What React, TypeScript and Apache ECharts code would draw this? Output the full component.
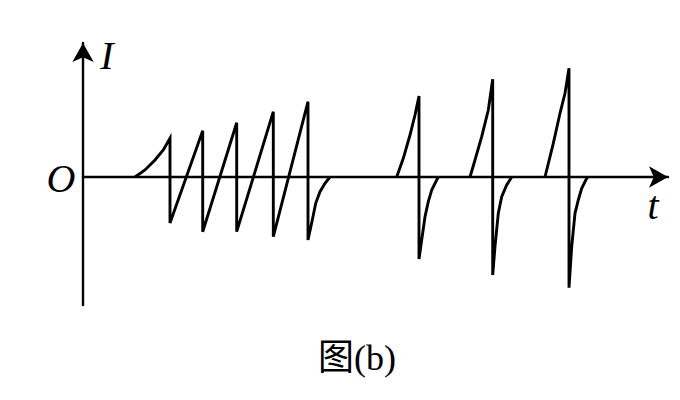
import React, { useEffect, useRef } from "react";
import * as echarts from "echarts";

// [t, I] points (arbitrary units)
const burstRise: number[][] = [[5.2, 0], [6.2, 0.7], [7.2, 1.7], [8.03, 2.7], [8.7, 3.87]];
const burstTeeth: number[][] = [
  [8.7, -4.6], [11.97, 4.63], [11.97, -5.47], [15.37, 5.43], [15.37, -5.47],
  [19.03, 6.53], [19.03, -5.97], [22.5, 7.53], [22.5, -6.3],
];
const burstTail: number[][] = [[22.5, -6.3], [22.93, -4.3], [23.27, -2.63], [23.7, -1.47], [24.2, -0.63], [24.7, 0]];

const pulse1: number[][] = [
  [31.37, 0], [32.03, 1.87], [32.7, 4.2], [33.2, 6.2], [33.6, 8.1],
  [33.6, -8.2], [33.87, -6.3], [34.2, -3.97], [34.53, -2.47], [34.87, -1.3], [35.37, -0.3], [35.53, 0],
];
const pulse2: number[][] = [
  [38.7, 0], [39.2, 1.7], [39.87, 4.03], [40.53, 6.7], [40.97, 9.77],
  [40.97, -9.8], [41.2, -6.97], [41.53, -3.63], [41.87, -1.97], [42.37, -0.8], [42.87, 0],
];
const pulse3: number[][] = [
  [46.2, 0], [47.03, 3.37], [47.7, 6.37], [48.2, 8.37], [48.6, 10.87],
  [48.6, -11.07], [48.87, -6.97], [49.2, -3.63], [49.53, -2.3], [49.87, -1.13], [50.37, -0.13], [50.5, 0],
];

const tRange = [0, 58.5];
const iRange = [-12.8, 13.4];

const axisLabelI = "I";
const axisLabelT = "t";
const originLabel = "O";
const caption = "图(b)";

export default function App() {
  const ref = useRef<HTMLDivElement>(null);
  useEffect(() => {
    if (!ref.current) return;
    const chart = echarts.init(ref.current, null, { renderer: "svg" });
    const groups = [
      [...burstRise, ...burstTeeth, ...burstTail.slice(1)],
      pulse1,
      pulse2,
      pulse3,
    ];
    const lineStyle = { color: "#000", width: 2.9, join: "miter" };
    const labelFont = 'italic 40px "Liberation Serif"';
    chart.setOption({
      animation: false,
      backgroundColor: "#fff",
      grid: { left: 83, right: 12, top: 43, bottom: 95 },
      xAxis: {
        type: "value",
        min: tRange[0],
        max: tRange[1],
        axisLine: {
          onZero: true,
          symbol: ["none", "arrow"],
          symbolSize: [16, 19],
          lineStyle: { color: "#000", width: 2.4 },
        },
        axisTick: { show: false },
        axisLabel: { show: false },
        splitLine: { show: false },
      },
      yAxis: {
        type: "value",
        min: iRange[0],
        max: iRange[1],
        axisLine: {
          show: true,
          onZero: false,
          symbol: ["none", "arrow"],
          symbolSize: [16, 19],
          lineStyle: { color: "#000", width: 2.4 },
        },
        axisTick: { show: false },
        axisLabel: { show: false },
        splitLine: { show: false },
      },
      series: groups.map((g) => ({
        type: "line",
        data: g,
        showSymbol: false,
        symbol: "none",
        lineStyle,
        z: 3,
      })),
      graphic: [
        {
          type: "text",
          x: 107,
          y: 55,
          style: { text: axisLabelI, font: labelFont, fill: "#000", textAlign: "center", textVerticalAlign: "middle" },
        },
        {
          type: "text",
          x: 61,
          y: 178,
          style: { text: originLabel, font: labelFont, fill: "#000", textAlign: "center", textVerticalAlign: "middle" },
        },
        {
          type: "text",
          x: 653,
          y: 205,
          style: { text: axisLabelT, font: labelFont, fill: "#000", textAlign: "center", textVerticalAlign: "middle" },
        },
        {
          type: "text",
          x: 357,
          y: 358,
          style: {
            text: caption,
            font: '36px "Liberation Serif", "Noto Sans CJK SC"',
            fill: "#000",
            textAlign: "center",
            textVerticalAlign: "middle",
          },
        },
      ],
    });
    return () => chart.dispose();
  }, []);
  return <div ref={ref} style={{ position: "absolute", left: 0, top: 0, width: 680, height: 400 }} />;
}
